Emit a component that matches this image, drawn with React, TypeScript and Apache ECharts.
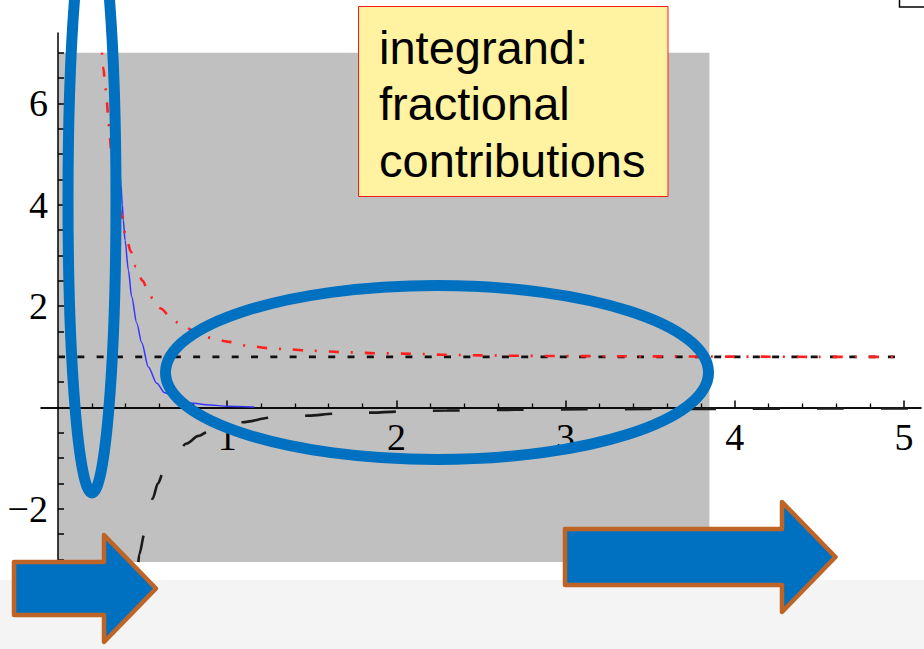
import React, { useEffect, useRef } from "react";
import * as echarts from "echarts";

// ---- data ----
const xLabelValues = [1, 2, 3, 4, 5];
const xMajorTicks = [1, 2, 3, 4, 5];
const yLabelValues = [-2, 2, 4, 6];

const redCurve: [number, number][] = [
  [0.26, 7.0], [0.268, 6.7], [0.278, 6.4], [0.288, 6.05], [0.297, 5.7], [0.305, 5.35],
  [0.315, 5.05], [0.33, 4.65], [0.35, 4.2], [0.375, 3.8], [0.4, 3.4], [0.43, 3.08],
  [0.46, 2.78], [0.5, 2.5], [0.53, 2.33], [0.56, 2.15], [0.61, 1.95], [0.66, 1.8],
  [0.72, 1.65], [0.8, 1.52], [0.91, 1.37], [1.0, 1.3], [1.12, 1.22], [1.25, 1.17],
  [1.35, 1.15], [1.5, 1.12], [1.7, 1.09], [1.9, 1.07], [2.1, 1.06], [2.3, 1.04],
  [2.5, 1.03], [2.75, 1.02], [3.0, 1.015], [3.5, 1.01], [4.0, 1.005], [4.5, 1.0], [5.0, 1.0],
];

const blueCurve: [number, number][] = [
  [0.335, 7.0], [0.345, 6.0], [0.36, 5.0], [0.372, 4.4], [0.38, 4.0], [0.386, 3.7],
  [0.396, 3.3], [0.416, 2.71], [0.435, 2.19], [0.465, 1.67], [0.495, 1.28], [0.534, 0.8],
  [0.583, 0.48], [0.632, 0.29], [0.7, 0.17], [0.78, 0.09], [0.9, 0.05], [1.0, 0.025], [1.16, 0.01],
];

const dashedCurve: [number, number][] = [
  [0.475, -3.05], [0.48, -2.9], [0.51, -2.5], [0.535, -2.1], [0.56, -1.79], [0.59, -1.5],
  [0.62, -1.3], [0.68, -1.0], [0.76, -0.71], [0.83, -0.56], [0.9, -0.45], [1.0, -0.36],
  [1.09, -0.29], [1.26, -0.2], [1.48, -0.16], [1.64, -0.12], [1.86, -0.1], [2.0, -0.08],
  [2.3, -0.06], [2.7, -0.045], [3.1, -0.035], [3.5, -0.03], [4.0, -0.025], [4.5, -0.02], [5.05, -0.02],
];

const unityLine: [number, number][] = [[0, 1], [5.0, 1]];

const shadedRegion = { x0: 0, x1: 3.85, y0: -3.05, y1: 7 };

const boxLines = ["integrand:", "fractional", "contributions"];

// axis extents
const X_MIN = -0.1;
const X_MAX = 5.1;
const Y_MIN = -3.05;
const Y_MAX = 7.39;

// minor tick positions (axis decoration)
const xMinorTicks: number[] = [];
for (let i = 1; i <= 25; i++) if (i % 5 !== 0) xMinorTicks.push(Math.round(i * 0.2 * 10) / 10);
const yTicks: number[] = [];
for (let i = -6; i <= 14; i++) if (i !== 0) yTicks.push(i * 0.5);

const W = 924;
const H = 649;
const GRID = { left: 41.1, right: 3.1, top: 33, bottom: 86.9 };
const gridW = W - GRID.left - GRID.right;
const gridH = H - GRID.top - GRID.bottom;
// move the axes so that they cross at the origin (axes meet at 0,0)
const xAxisOffset = -((0 - Y_MIN) / (Y_MAX - Y_MIN)) * gridH;
const yAxisOffset = -((0 - X_MIN) / (X_MAX - X_MIN)) * gridW;

const AXIS_COLOR = "#000";
const SERIF = '"Liberation Serif", "Times New Roman", serif';
const SANS = '"Liberation Sans", Arial, sans-serif';

const ARROW_FILL = "#0070C0";
const ARROW_STROKE = "#BF6427";

function buildOption(): any {
  const axisLine = { show: true, onZero: false, lineStyle: { color: AXIS_COLOR, width: 1.5 } };
  return {
    animation: false,
    grid: { ...GRID, containLabel: false, outerBoundsMode: "none" },
    xAxis: [
      {
        type: "value", min: X_MIN, max: X_MAX, position: "bottom", offset: xAxisOffset, z: 3,
        axisLine,
        splitLine: { show: false },
        axisTick: { show: true, inside: true, length: 7, customValues: xMajorTicks, lineStyle: { color: AXIS_COLOR, width: 1.5 } },
        axisLabel: {
          show: true, customValues: xLabelValues, margin: 10, hideOverlap: false,
          fontFamily: SERIF, fontSize: 38, color: "#000",
        },
      },
      {
        type: "value", min: X_MIN, max: X_MAX, position: "bottom", offset: xAxisOffset, z: 3,
        axisLine,
        splitLine: { show: false },
        axisTick: { show: true, inside: true, length: 4, customValues: xMinorTicks, lineStyle: { color: AXIS_COLOR, width: 1.3 } },
        axisLabel: { show: false },
      },
    ],
    yAxis: [
      {
        type: "value", min: Y_MIN, max: Y_MAX, position: "left", offset: yAxisOffset, z: 3,
        axisLine,
        splitLine: { show: false },
        axisTick: { show: true, inside: true, length: 6, customValues: yTicks, lineStyle: { color: AXIS_COLOR, width: 1.5 } },
        axisLabel: {
          show: true, customValues: yLabelValues, margin: 10, hideOverlap: false,
          fontFamily: SERIF, fontSize: 38, color: "#000",
          padding: [0, 0, 6, 0],
          formatter: (v: number) => (v < 0 ? "\u2212" + Math.abs(v) : String(v)),
        },
      },
    ],
    series: [
      {
        type: "line", name: "unity", data: unityLine, symbol: "none", showSymbol: false,
        lineStyle: { color: "#111", width: 2.6, type: [7, 12.3] },
        markArea: {
          silent: true,
          itemStyle: { color: "#c0c0c0" },
          data: [[{ coord: [shadedRegion.x0, shadedRegion.y0] }, { coord: [shadedRegion.x1, shadedRegion.y1] }]],
        },
      },
      {
        type: "line", name: "dashed", data: dashedCurve, symbol: "none", showSymbol: false,
        smooth: 0.3, smoothMonotone: "x",
        lineStyle: { color: "#1a1a1a", width: 2.6, type: [27, 37] },
      },
      {
        type: "line", name: "blue", data: blueCurve, symbol: "none", showSymbol: false,
        smooth: 0.3, smoothMonotone: "x",
        lineStyle: { color: "#3636ff", width: 1.5, type: "solid" },
      },
      {
        type: "line", name: "red", data: redCurve, symbol: "none", showSymbol: false,
        smooth: 0.3, smoothMonotone: "x",
        lineStyle: { color: "#ff1f1f", width: 2.6, type: [2, 12, 10, 12] },
      },
    ],
    graphic: [
      { type: "rect", z: 1, silent: true, shape: { x: 0, y: 580, width: 924, height: 69 }, style: { fill: "#f4f4f4" } },
      { type: "rect", z: 10, silent: true, shape: { x: 899.5, y: -20, width: 40, height: 27 }, style: { fill: "#fff", stroke: "#000", lineWidth: 1.5 } },
      { type: "rect", z: 10, silent: true, shape: { x: 358.5, y: 6.5, width: 309.5, height: 190 }, style: { fill: "#FFF2A1", stroke: "#FF1a1a", lineWidth: 1 } },
      ...boxLines.map((t, i) => ({
        type: "text", z: 11, silent: true, x: 379, y: 47 + i * 56.7,
        style: { text: t, font: `47px ${SANS}`, fill: "#000", align: "left", verticalAlign: "middle", textAlign: "left", textVerticalAlign: "middle" },
      })),
      { type: "ellipse", z: 12, silent: true, shape: { cx: 92, cy: 200, rx: 24, ry: 293 }, style: { fill: "none", stroke: "#0070C0", lineWidth: 11 } },
      { type: "ellipse", z: 12, silent: true, shape: { cx: 437, cy: 372.5, rx: 271.5, ry: 87 }, style: { fill: "none", stroke: "#0070C0", lineWidth: 11 } },
      {
        type: "polygon", z: 13, silent: true,
        shape: { points: [[14, 562], [104, 562], [104, 535], [156, 588.5], [104, 642], [104, 615], [14, 615]] },
        style: { fill: ARROW_FILL, stroke: ARROW_STROKE, lineWidth: 4.5, lineJoin: "round" },
      },
      {
        type: "polygon", z: 13, silent: true,
        shape: { points: [[565, 529], [782, 529], [782, 502], [835.5, 557], [782, 612], [782, 585], [565, 585]] },
        style: { fill: ARROW_FILL, stroke: ARROW_STROKE, lineWidth: 4.5, lineJoin: "round" },
      },
    ],
  };
}

export default function App() {
  const ref = useRef<HTMLDivElement>(null);
  useEffect(() => {
    if (!ref.current) return;
    const chart = echarts.init(ref.current, null, { renderer: "svg" });
    chart.setOption(buildOption());
    return () => chart.dispose();
  }, []);
  return (
    <div
      ref={ref}
      style={{ position: "fixed", left: 0, top: 0, width: W, height: H, background: "#fff" }}
    />
  );
}
